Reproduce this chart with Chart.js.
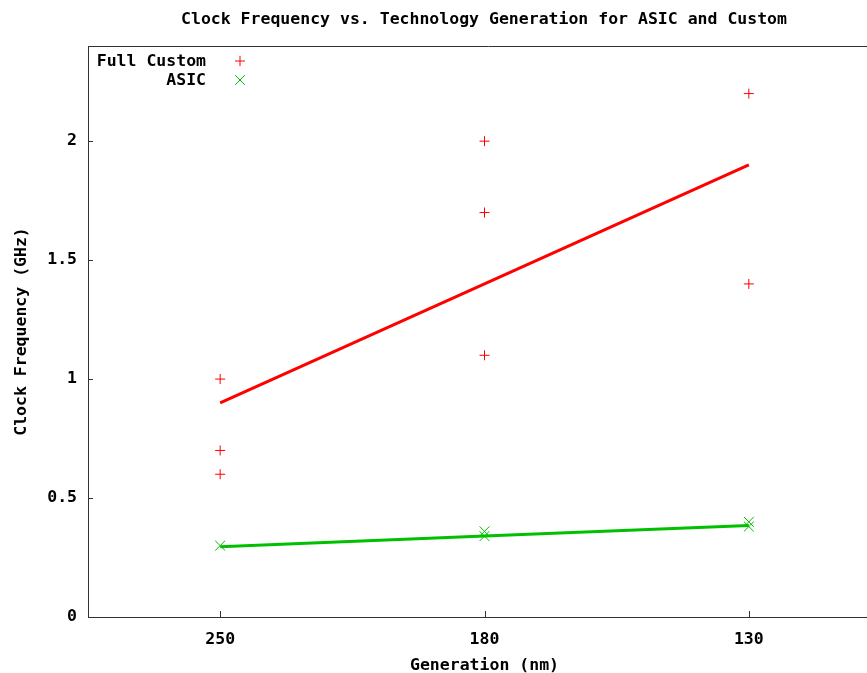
<!DOCTYPE html>
<html>
<head>
<meta charset="utf-8">
<script src="https://cdn.jsdelivr.net/npm/chart.js@4/dist/chart.umd.min.js"></script>
<style>
  html, body { margin: 0; padding: 0; background: #fff; overflow: hidden; width: 867px; height: 673px; }
  canvas { display: block; }
</style>
</head>
<body>
<canvas id="chart" width="889" height="673"></canvas>
<script>
// chart data
const generations = ['250', '180', '130'];
const customGen = ['250', '250', '250', '180', '180', '180', '130', '130'];
const customClock = [1.0, 0.7, 0.6, 2.0, 1.7, 1.1, 2.2, 1.4];
const asicGen = ['250', '180', '180', '130', '130'];
const asicClock = [0.30, 0.36, 0.34, 0.40, 0.38];
const customFit = [0.9, 1.4, 1.9];
const asicFit = [0.295, 0.34, 0.385];
const yTickValues = [0, 0.5, 1, 1.5, 2];

const RED = '#ff0000';
const GREEN = '#00c000';
const AXIS = '#333333';
const FONT = "'DejaVu Sans Mono', monospace";
const FONT_SIZE = 16.5;

Chart.defaults.font.family = FONT;
Chart.defaults.font.size = FONT_SIZE;
Chart.defaults.font.weight = 'bold';
Chart.defaults.color = '#000';

const toPoints = (xs, ys) => xs.map((x, i) => ({ x, y: ys[i] }));

// title, top border, inward ticks and in-plot key (gnuplot look)
const gnuplotDecor = {
  id: 'gnuplotDecor',
  afterDraw(chart) {
    const { ctx, chartArea, scales } = chart;
    ctx.save();

    ctx.strokeStyle = AXIS;
    ctx.lineWidth = 1;
    ctx.beginPath();
    ctx.moveTo(chartArea.left, Math.round(chartArea.top) + 0.5);
    ctx.lineTo(chart.width, Math.round(chartArea.top) + 0.5);

    scales.y.ticks.forEach(t => {
      const py = Math.round(scales.y.getPixelForValue(t.value)) + 0.5;
      ctx.moveTo(chartArea.left, py);
      ctx.lineTo(chartArea.left + 5, py);
    });
    generations.forEach((g, i) => {
      const px = Math.round(scales.x.getPixelForValue(i)) + 0.5;
      ctx.moveTo(px, chartArea.bottom);
      ctx.lineTo(px, chartArea.bottom - 6);
    });
    ctx.stroke();

    ctx.font = `bold ${FONT_SIZE}px ${FONT}`;
    ctx.fillStyle = '#000';
    ctx.textAlign = 'center';
    ctx.textBaseline = 'middle';
    ctx.fillText('Clock Frequency vs. Technology Generation for ASIC and Custom', 484, 20);

    ctx.textAlign = 'right';
    [0, 1].forEach(i => {
      const ds = chart.data.datasets[i];
      const y = 62 + i * 19;
      ctx.fillStyle = '#000';
      ctx.fillText(ds.label, 206, y);
      ctx.strokeStyle = ds.borderColor;
      ctx.lineWidth = 1;
      Chart.helpers.drawPoint(ctx, {
        pointStyle: ds.pointStyle,
        radius: ds.pointRadius,
        borderWidth: 1
      }, 240, y - 1);
    });
    ctx.restore();
  }
};

new Chart(document.getElementById('chart'), {
  type: 'line',
  data: {
    labels: generations,
    datasets: [
      {
        label: 'Full Custom',
        data: toPoints(customGen, customClock),
        showLine: false,
        pointStyle: 'cross',
        pointRadius: 5,
        pointBorderWidth: 1,
        borderColor: RED,
        backgroundColor: RED
      },
      {
        label: 'ASIC',
        data: toPoints(asicGen, asicClock),
        showLine: false,
        pointStyle: 'crossRot',
        pointRadius: 7,
        pointBorderWidth: 1,
        borderColor: GREEN,
        backgroundColor: GREEN
      },
      {
        label: 'Custom fit',
        data: customFit,
        borderColor: RED,
        borderWidth: 3,
        pointRadius: 0,
        fill: false
      },
      {
        label: 'ASIC fit',
        data: asicFit,
        borderColor: GREEN,
        borderWidth: 3,
        pointRadius: 0,
        fill: false
      }
    ]
  },
  options: {
    responsive: false,
    animation: false,
    devicePixelRatio: 1,
    layout: { padding: { top: 46, left: 0, right: 0, bottom: 0 } },
    plugins: {
      legend: { display: false },
      title: { display: false },
      tooltip: { enabled: false }
    },
    scales: {
      x: {
        type: 'category',
        offset: true,
        grid: { display: false, drawTicks: false },
        border: { display: true, color: AXIS, width: 1 },
        ticks: { padding: 13, maxRotation: 0 },
        title: {
          display: true,
          text: 'Generation (nm)',
          padding: { top: 13, bottom: -3 }
        },
        afterFit: scale => { scale.height = 56; }
      },
      y: {
        min: 0,
        max: 2.4,
        grid: { display: false, drawTicks: false },
        border: { display: true, color: AXIS, width: 1 },
        ticks: { padding: 11, callback: v => String(v) },
        afterBuildTicks: scale => {
          scale.ticks = yTickValues.map(v => ({ value: v }));
        },
        title: {
          display: true,
          text: 'Clock Frequency (GHz)',
          padding: { top: 12, bottom: 0 }
        },
        afterFit: scale => { scale.width = 88; }
      }
    }
  },
  plugins: [gnuplotDecor]
});
</script>
</body>
</html>
